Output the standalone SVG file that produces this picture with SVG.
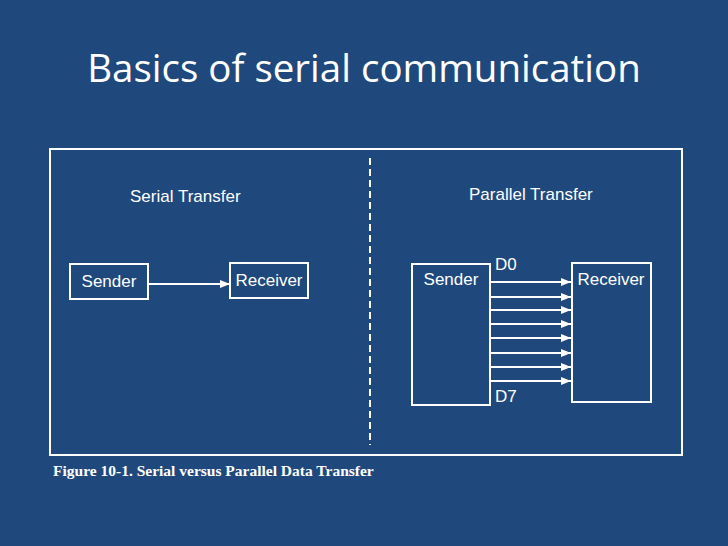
<svg xmlns="http://www.w3.org/2000/svg" width="728" height="546" viewBox="0 0 728 546">
<defs>
<style>
.ln{stroke:#fff;stroke-width:2;fill:none}
.t{fill:#fff;font-family:"Liberation Sans",Arial,sans-serif;font-size:17px}
</style>
<marker id="a" markerWidth="10" markerHeight="8" refX="10" refY="4" orient="auto" markerUnits="userSpaceOnUse"><path d="M0,0L10,4L0,8Z" fill="#fff"/></marker>
</defs>
<rect width="728" height="546" fill="#1F497D"/>
<text x="364" y="82" text-anchor="middle" font-family="'Open Sans',sans-serif" font-size="38.5" fill="#fff">Basics of serial communication</text>
<rect x="50" y="149" width="632" height="306" class="ln"/>
<line x1="370" y1="158" x2="370" y2="445" class="ln" stroke-dasharray="7,4"/>
<text x="130" y="202" class="t">Serial Transfer</text>
<text x="469" y="200" class="t">Parallel Transfer</text>
<g id="s-sender"><rect x="70" y="264" width="78" height="35" class="ln"/><text x="109" y="287" class="t" text-anchor="middle">Sender</text></g>
<g id="s-receiver"><rect x="230" y="263" width="78" height="35" class="ln"/><text x="269" y="286" class="t" text-anchor="middle">Receiver</text></g>
<g id="p-sender"><rect x="412" y="264" width="78" height="141" class="ln"/><text x="451" y="285" class="t" text-anchor="middle">Sender</text></g>
<g id="p-receiver"><rect x="572" y="263" width="79" height="139" class="ln"/><text x="611" y="285" class="t" text-anchor="middle">Receiver</text></g>
<g id="connectors" class="ln">
<line x1="148" y1="284" x2="230" y2="284" marker-end="url(#a)"/>
<line x1="491" y1="282" x2="571" y2="282" marker-end="url(#a)"/>
<line x1="491" y1="297" x2="571" y2="297" marker-end="url(#a)"/>
<line x1="491" y1="310" x2="571" y2="310" marker-end="url(#a)"/>
<line x1="491" y1="324" x2="571" y2="324" marker-end="url(#a)"/>
<line x1="491" y1="338" x2="571" y2="338" marker-end="url(#a)"/>
<line x1="491" y1="353" x2="571" y2="353" marker-end="url(#a)"/>
<line x1="491" y1="367" x2="571" y2="367" marker-end="url(#a)"/>
<line x1="491" y1="381" x2="571" y2="381" marker-end="url(#a)"/>
</g>
<text x="495" y="270" class="t" font-size="14">D0</text>
<text x="495" y="402" class="t" font-size="14">D7</text>
<text x="53" y="476" fill="#fff" font-family="'Liberation Serif',serif" font-weight="bold" font-size="15.5">Figure 10-1. Serial versus Parallel Data Transfer</text>
</svg>
